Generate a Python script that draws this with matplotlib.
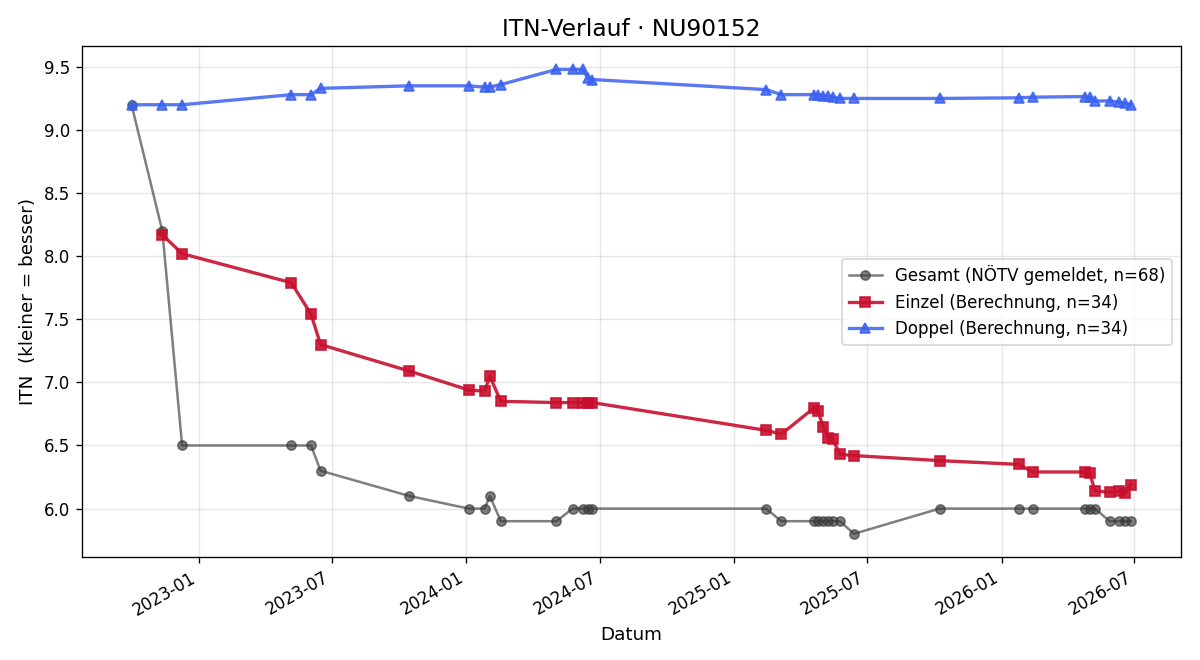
import matplotlib
matplotlib.use("Agg")
import matplotlib.pyplot as plt
import matplotlib.dates as mdates
import pandas as pd

dates = pd.to_datetime([
    "2022-10-01", "2022-11-12", "2022-12-09", "2023-05-07", "2023-06-03",
    "2023-06-16", "2023-10-15", "2024-01-04", "2024-01-26", "2024-02-02",
    "2024-02-17", "2024-05-03", "2024-05-25", "2024-06-08", "2024-06-15",
    "2024-06-21", "2025-02-13", "2025-03-06", "2025-04-20", "2025-04-25",
    "2025-05-02", "2025-05-09", "2025-05-15", "2025-05-25", "2025-06-13",
    "2025-10-08", "2026-01-24", "2026-02-12", "2026-04-25", "2026-05-01",
    "2026-05-08", "2026-05-28", "2026-06-10", "2026-06-18", "2026-06-26",
])

gesamt = [9.2, 8.2, 6.5, 6.5, 6.5, 6.3, 6.1, 6.0, 6.0, 6.1,
          5.9, 5.9, 6.0, 6.0, 6.0, 6.0, 6.0, 5.9, 5.9, 5.9,
          5.9, 5.9, 5.9, 5.9, 5.8, 6.0, 6.0, 6.0, 6.0, 6.0,
          6.0, 5.9, 5.9, 5.9, 5.9]

einzel = [8.17, 8.02, 7.79, 7.54, 7.30, 7.09, 6.94, 6.93, 7.05,
          6.85, 6.84, 6.84, 6.84, 6.84, 6.84, 6.62, 6.59, 6.80, 6.77,
          6.65, 6.56, 6.55, 6.43, 6.42, 6.38, 6.35, 6.29, 6.29, 6.28,
          6.14, 6.13, 6.14, 6.12, 6.19]

doppel = [9.20, 9.20, 9.20, 9.28, 9.28, 9.33, 9.35, 9.35, 9.34, 9.34,
          9.36, 9.48, 9.48, 9.48, 9.41, 9.40, 9.32, 9.28, 9.28, 9.28,
          9.27, 9.27, 9.26, 9.25, 9.25, 9.25, 9.255, 9.26, 9.265, 9.26,
          9.23, 9.23, 9.22, 9.21, 9.20]

fig, ax = plt.subplots(figsize=(10, 5.5), dpi=120)

ax.plot(dates, gesamt, color="#3a3a3a", alpha=0.65, lw=1.5, marker="o", ms=5.5,
        label="Gesamt (NÖTV gemeldet, n=68)")
ax.plot(dates[1:], einzel, color="#c8102e", alpha=0.9, lw=2, marker="s", ms=6.5,
        label="Einzel (Berechnung, n=34)")
ax.plot(dates, doppel, color="#3b62f0", alpha=0.85, lw=2, marker="^", ms=6.5,
        label="Doppel (Berechnung, n=34)")

ax.set_title("ITN-Verlauf · NU90152", fontsize=14)
ax.set_xlabel("Datum", fontsize=11)
ax.set_ylabel("ITN  (kleiner = besser)", fontsize=11)
ax.grid(True, alpha=0.3)
ax.xaxis.set_major_locator(mdates.MonthLocator(bymonth=[1, 7]))
ax.xaxis.set_major_formatter(mdates.DateFormatter("%Y-%m"))
ax.legend(loc="center right", fontsize=10)
fig.autofmt_xdate()
fig.subplots_adjust(left=0.068, right=0.984, top=0.930, bottom=0.156)
fig.savefig("out.png", dpi=120)
